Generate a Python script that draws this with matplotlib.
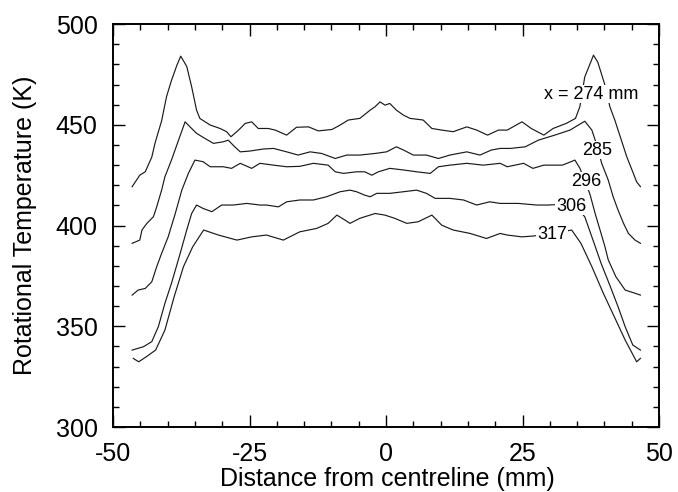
import matplotlib
matplotlib.use('Agg')
import matplotlib.pyplot as plt
from matplotlib.ticker import MultipleLocator

# profiles: distance (mm), rotational temperature (K)
x_274 = [-46.5, -45.1, -44.1, -42.9, -42.3, -41.1, -40.2, -39.3, -38.3, -37.6,
         -36.5, -35.6, -34.7, -34.1, -32.2, -30.4, -29.2, -28.4, -27.0, -25.8,
         -24.6, -23.4, -21.6, -20.3, -18.2, -16.4, -14.2, -12.4, -9.9, -8.4,
         -6.9, -4.8, -2.9, -2.0, -1.1, -0.2, 0.7, 1.9, 3.2, 4.4,
         6.8, 8.4, 10.2, 12.3, 14.8, 16.6, 18.6, 20.6, 22.2, 24.9,
         26.6, 28.9, 30.6, 33.0, 34.7, 35.5, 36.4, 37.4, 38.0, 38.8,
         40.1, 41.0, 41.9, 42.9, 44.1, 45.3, 45.9, 46.6]
T_274 = [419.3, 425.0, 426.7, 434.0, 441.0, 452.0, 464.0, 472.0, 479.6, 484.1,
         479.0, 468.9, 457.3, 453.2, 449.9, 448.2, 446.6, 444.1, 447.4, 450.7,
         451.5, 448.2, 448.2, 447.4, 444.9, 448.8, 449.0, 447.0, 447.7, 449.9,
         452.4, 453.2, 457.3, 459.0, 461.4, 459.8, 460.6, 457.3, 454.8, 453.2,
         452.4, 448.2, 447.4, 446.6, 449.0, 447.4, 444.9, 447.4, 447.4, 451.5,
         448.2, 444.9, 448.2, 450.7, 453.2, 459.0, 473.8, 480.5, 484.6, 481.0,
         469.7, 459.0, 452.4, 444.1, 434.1, 425.9, 421.7, 419.3]

x_285 = [-46.5, -45.1, -44.7, -43.8, -42.6, -42.0, -41.1, -40.5, -39.3, -38.0,
         -36.8, -35.9, -34.7, -33.2, -31.6, -29.8, -28.9, -27.7, -26.7, -24.9,
         -22.5, -20.6, -18.2, -16.1, -13.9, -11.8, -9.3, -7.2, -4.8, -2.0,
         0.1, 1.9, 3.2, 5.0, 7.4, 9.6, 11.7, 14.8, 17.2, 19.3,
         20.9, 22.8, 25.5, 27.9, 30.9, 33.7, 36.4, 37.7, 38.6, 39.5,
         40.7, 41.6, 42.5, 43.5, 44.4, 45.6, 46.6]
T_285 = [391.2, 392.8, 397.8, 401.1, 404.4, 409.3, 417.6, 424.2, 432.5, 442.4,
         451.5, 449.0, 445.8, 443.3, 440.8, 441.6, 442.4, 439.1, 436.6, 437.0,
         438.0, 438.3, 436.6, 435.0, 436.6, 435.8, 433.3, 435.0, 435.0, 435.8,
         436.6, 439.1, 437.5, 435.0, 435.0, 433.3, 435.0, 436.6, 435.0, 437.5,
         438.3, 438.3, 439.1, 442.4, 444.9, 447.4, 451.8, 447.4, 440.0, 430.9,
         422.6, 414.3, 407.7, 401.1, 396.1, 392.8, 391.2]

x_296 = [-46.5, -45.4, -44.1, -42.9, -42.0, -41.1, -39.9, -38.6, -37.4, -36.2,
         -35.0, -33.5, -32.2, -29.8, -28.3, -26.7, -24.6, -23.1, -20.6, -18.2,
         -15.8, -13.3, -10.6, -9.3, -7.8, -5.4, -3.9, -2.6, -1.4, 0.7,
         3.2, 5.6, 8.1, 9.6, 11.7, 14.8, 17.8, 20.9, 22.2, 25.2,
         26.9, 28.9, 32.3, 34.6, 35.5, 36.5, 37.4, 38.3, 39.2, 40.1,
         40.7, 42.1, 43.8, 45.5, 46.6]
T_296 = [365.5, 368.0, 368.8, 372.1, 379.6, 386.2, 394.4, 406.0, 417.6, 425.9,
         432.5, 431.7, 429.2, 429.2, 428.4, 430.9, 428.4, 430.9, 430.0, 429.2,
         429.4, 430.9, 430.0, 426.7, 425.9, 426.7, 426.7, 425.0, 426.7, 428.4,
         427.6, 426.7, 425.9, 429.2, 430.0, 430.9, 430.0, 430.9, 429.2, 430.9,
         428.4, 430.0, 430.0, 432.5, 428.5, 422.0, 415.1, 406.0, 397.8, 389.5,
         383.0, 374.6, 368.0, 366.5, 365.5]

x_306 = [-46.5, -44.4, -42.9, -41.7, -40.5, -39.3, -37.7, -36.5, -35.6, -34.7,
         -33.5, -31.9, -30.1, -28.0, -25.5, -23.1, -21.9, -19.7, -18.2, -15.8,
         -13.3, -10.9, -8.4, -6.6, -5.4, -3.9, -2.9, -1.7, 0.7, 3.2,
         5.6, 7.4, 9.0, 11.7, 14.2, 16.6, 19.0, 20.9, 24.2, 27.6,
         29.6, 32.0, 34.5, 36.4, 37.7, 39.4, 41.1, 42.5, 43.8, 45.2,
         46.6]
T_306 = [338.2, 339.9, 342.4, 349.8, 361.4, 371.3, 386.2, 397.8, 406.0, 410.2,
         408.5, 406.9, 410.2, 410.2, 411.0, 410.2, 410.2, 409.3, 411.8, 412.7,
         412.7, 414.3, 416.8, 417.6, 416.8, 415.1, 414.3, 416.0, 416.0, 416.8,
         417.6, 416.0, 413.5, 413.5, 412.7, 410.2, 411.8, 411.0, 411.0, 410.2,
         410.2, 410.5, 410.0, 404.4, 394.4, 381.2, 369.6, 359.7, 349.8, 340.7,
         338.2]

x_317 = [-46.3, -45.3, -43.9, -42.2, -40.5, -38.8, -37.1, -35.4, -33.4, -30.7,
         -27.3, -24.6, -21.9, -18.8, -15.8, -12.7, -10.6, -9.0, -7.5, -6.6,
         -4.8, -2.0, -0.2, 1.6, 3.8, 5.9, 8.4, 10.2, 12.3, 15.4,
         18.4, 20.9, 22.2, 24.9, 26.9, 30.5, 34.0, 35.7, 37.7, 39.8,
         41.8, 43.8, 45.9, 46.6]
T_317 = [334.1, 332.4, 334.9, 338.2, 348.1, 364.7, 379.6, 389.5, 397.8, 395.3,
         392.8, 394.4, 395.3, 392.8, 396.9, 398.6, 401.1, 405.2, 402.7, 401.1,
         403.6, 406.0, 405.2, 403.6, 401.1, 401.9, 405.2, 400.2, 397.8, 396.1,
         393.6, 396.1, 395.3, 394.4, 394.8, 396.0, 397.8, 391.2, 379.6, 366.4,
         354.8, 343.2, 332.4, 334.1]

profiles = [(x_274, T_274), (x_285, T_285), (x_296, T_296),
            (x_306, T_306), (x_317, T_317)]

# curve labels and where they sit
label_text = ['x = 274 mm', '285', '296', '306', '317']
label_x = [37.6, 38.6, 36.6, 33.9, 30.4]
label_T = [465.3, 437.5, 422.0, 409.7, 395.7]

plt.rcParams['font.family'] = ['Liberation Sans', 'DejaVu Sans']
plt.rcParams['axes.unicode_minus'] = False

fig = plt.figure(figsize=(6.78, 4.92), dpi=100)
ax = fig.add_axes([0.1667, 0.132, 0.8053, 0.819])

for xs, Ts in profiles:
    ax.plot(xs, Ts, color='#1a1a1a', lw=0.85, solid_joinstyle='round')

for txt, lx, lT in zip(label_text, label_x, label_T):
    ax.text(lx, lT, txt, fontsize=13, ha='center', va='center', zorder=5,
            bbox=dict(fc='white', ec='none', pad=0.5))

ax.set_xlim(-50, 50)
ax.set_ylim(300, 500)
ax.xaxis.set_major_locator(MultipleLocator(25))
ax.xaxis.set_minor_locator(MultipleLocator(5))
ax.yaxis.set_major_locator(MultipleLocator(50))
ax.yaxis.set_minor_locator(MultipleLocator(10))
ax.tick_params(which='both', direction='in', top=True, right=True,
               width=1.0, labelsize=18, pad=11)
ax.tick_params(which='major', length=8.5)
ax.tick_params(which='minor', length=4.5)
for sp in ax.spines.values():
    sp.set_linewidth(1.4)

ax.set_xlabel('Distance from centreline (mm)', fontsize=18)
ax.set_ylabel('Rotational Temperature (K)', fontsize=18)
ax.xaxis.set_label_coords(0.503, -0.1)
ax.yaxis.set_label_coords(-0.14, 0.5)

fig.savefig('out.png', dpi=100)
plt.close(fig)
